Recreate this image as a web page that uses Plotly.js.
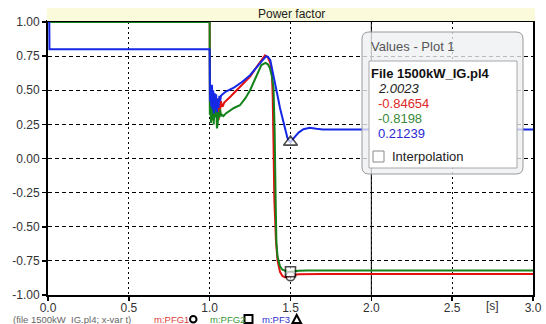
<!DOCTYPE html>
<html>
<head>
<meta charset="utf-8">
<script src="https://cdn.plot.ly/plotly-3.0.1.min.js"></script>
<style>
html,body{margin:0;padding:0;background:#fff;}
#chart{width:546px;height:324px;}
</style>
</head>
<body>
<div id="chart"></div>
<script>
// ---------- data ----------
const tRed = [0, 1.0, 1.002, 1.006, 1.01, 1.014, 1.018, 1.022, 1.026, 1.03, 1.035, 1.04, 1.045, 1.05, 1.055, 1.06, 1.065, 1.07, 1.075, 1.08, 1.09, 1.1, 1.126, 1.15, 1.187, 1.22, 1.25, 1.29, 1.32, 1.342, 1.36, 1.375, 1.385, 1.39, 1.395, 1.4, 1.41, 1.42, 1.435, 1.45, 1.465, 1.48, 1.5, 1.52, 1.55, 1.6, 1.7, 2.0, 3.0];
const pfRed = [1.0, 1.0, 0.36, 0.46, 0.30, 0.47, 0.28, 0.44, 0.30, 0.45, 0.32, 0.42, 0.34, 0.44, 0.28, 0.40, 0.36, 0.42, 0.39, 0.38, 0.41, 0.42, 0.45, 0.48, 0.526, 0.56, 0.60, 0.67, 0.72, 0.755, 0.74, 0.70, 0.63, 0.45, 0.10, -0.30, -0.60, -0.75, -0.83, -0.86, -0.87, -0.87, -0.862, -0.853, -0.848, -0.847, -0.8466, -0.8465, -0.8465];

const tGreen = [0, 1.0, 1.001, 1.004, 1.008, 1.012, 1.016, 1.02, 1.025, 1.03, 1.035, 1.04, 1.045, 1.05, 1.055, 1.06, 1.065, 1.07, 1.076, 1.085, 1.1, 1.126, 1.15, 1.187, 1.22, 1.25, 1.29, 1.32, 1.345, 1.36, 1.373, 1.385, 1.395, 1.402, 1.408, 1.413, 1.42, 1.435, 1.45, 1.466, 1.48, 1.5, 1.55, 1.6, 2.0, 3.0];
const pfGreen = [1.0, 1.0, 0.32, 0.42, 0.26, 0.45, 0.28, 0.40, 0.25, 0.38, 0.30, 0.42, 0.22, 0.26, 0.34, 0.30, 0.36, 0.31, 0.32, 0.31, 0.33, 0.35, 0.37, 0.39, 0.44, 0.50, 0.61, 0.685, 0.70, 0.69, 0.66, 0.60, 0.52, 0.20, -0.30, -0.62, -0.72, -0.79, -0.815, -0.825, -0.828, -0.83, -0.822, -0.82, -0.8198, -0.8198];

const tBlue = [0, 0.008, 0.009, 1.0, 1.002, 1.006, 1.01, 1.014, 1.018, 1.022, 1.026, 1.03, 1.035, 1.04, 1.045, 1.05, 1.055, 1.06, 1.065, 1.07, 1.08, 1.1, 1.15, 1.2, 1.25, 1.29, 1.32, 1.35, 1.36, 1.375, 1.39, 1.405, 1.42, 1.435, 1.45, 1.465, 1.48, 1.49, 1.5, 1.52, 1.55, 1.58, 1.62, 1.66, 1.7, 1.8, 2.0, 2.5, 3.0];
const pfBlue = [1.0, 1.0, 0.8, 0.8, 0.42, 0.52, 0.38, 0.54, 0.36, 0.50, 0.33, 0.48, 0.36, 0.47, 0.34, 0.44, 0.37, 0.46, 0.42, 0.46, 0.47, 0.49, 0.52, 0.56, 0.61, 0.67, 0.71, 0.75, 0.745, 0.72, 0.64, 0.55, 0.46, 0.37, 0.29, 0.22, 0.155, 0.13, 0.12, 0.15, 0.19, 0.215, 0.225, 0.218, 0.213, 0.212, 0.2124, 0.2124, 0.2124];

const markT = [1.5, 1.5, 1.5];
const markPF = [-0.862, -0.83, 0.12];

const xTickVals = [0, 0.5, 1.0, 1.5, 2.0, 2.5, 3.0];
const xTickText = ["0.0", "0.5", "1.0", "1.5", "2.0", "2.5", "3.0"];
const yTickVals = [1, 0.75, 0.5, 0.25, 0, -0.25, -0.5, -0.75, -1];
const yTickText = ["1.00", "0.75", "0.50", "0.25", "0.00", "-0.25", "-0.50", "-0.75", "-1.00"];

const readoutT = "2.0023";
const readoutVals = ["-0.84654", "-0.8198", "0.21239"];
const seriesNames = ["m:PFG1", "m:PFG2", "m:PF3"];

// ---------- styling ----------
const RED = "#e41010", GREEN = "#14821a", BLUE = "#1428e6";
const FONT = "Liberation Sans, Arial, sans-serif";
const L = 48, R = 13, T = 22, B = 29, W = 546, H = 324;
const PW = W - L - R, PH = H - T - B;
const px = x => (x - L) / PW;
const py = y => (H - B - y) / PH;

const traces = [
  {x: tRed, y: pfRed, mode: "lines", line: {color: RED, width: 2}, name: seriesNames[0]},
  {x: tGreen, y: pfGreen, mode: "lines", line: {color: GREEN, width: 2}, name: seriesNames[1]},
  {x: tBlue, y: pfBlue, mode: "lines", line: {color: BLUE, width: 2}, name: seriesNames[2]},
  {x: markT, y: markPF, mode: "markers", cliponaxis: false,
   marker: {symbol: ["circle", "square", "triangle-up"], size: [9, 10, 12], color: "#ffffff",
            line: {color: "#000000", width: 1.6}}}
];

function roundRect(x0, y0, x1, y1, r) {
  const rx = r / PW, ry = r / PH;
  const a = px(x0), b = px(x1), c = py(y0), d = py(y1);
  return `M ${a + rx} ${c} L ${b - rx} ${c} Q ${b} ${c} ${b} ${c - ry} L ${b} ${d + ry} Q ${b} ${d} ${b - rx} ${d} L ${a + rx} ${d} Q ${a} ${d} ${a} ${d + ry} L ${a} ${c - ry} Q ${a} ${c} ${a + rx} ${c} Z`;
}

const shapes = [
  {type: "line", xref: "x", yref: "paper", x0: 2, x1: 2, y0: 0, y1: 1, line: {color: "#000", width: 1}, layer: "below"},
  {type: "rect", xref: "paper", yref: "paper", x0: px(47), x1: px(535), y0: py(21), y1: py(8),
   fillcolor: "#fbfbdc", line: {width: 0}, layer: "above"},
  {type: "path", xref: "paper", yref: "paper", path: roundRect(362, 32, 523, 174, 7),
   fillcolor: "rgba(238,240,242,0.78)", line: {color: "#9a9a9a", width: 1}, layer: "above"},
  {type: "rect", xref: "paper", yref: "paper", x0: px(369), x1: px(517), y0: py(168), y1: py(61),
   fillcolor: "#ffffff", line: {color: "#a8a8a8", width: 1}, layer: "above"},
  {type: "rect", xref: "paper", yref: "paper", x0: px(373), x1: px(384), y0: py(162), y1: py(151),
   fillcolor: "#ffffff", line: {color: "#8a8a8a", width: 1}, layer: "above"},
  {type: "circle", xref: "paper", yref: "paper", x0: px(190), x1: px(196.5), y0: py(322.5), y1: py(316),
   fillcolor: "#fff", line: {color: "#000", width: 2}},
  {type: "rect", xref: "paper", yref: "paper", x0: px(244.5), x1: px(252.5), y0: py(323), y1: py(315),
   fillcolor: "#fff", line: {color: "#000", width: 2}},
  {type: "path", xref: "paper", yref: "paper",
   path: `M ${px(292.5)} ${py(323)} L ${px(301)} ${py(323)} L ${px(296.7)} ${py(315)} Z`,
   fillcolor: "#fff", line: {color: "#000", width: 2}}
];

const ann = (x, y, text, opts) => Object.assign({
  xref: "paper", yref: "paper", x: px(x), y: py(y), text: text, showarrow: false,
  xanchor: "left", yanchor: "middle", borderpad: 0,
  font: {family: FONT, size: 13, color: "#222"}
}, opts || {});

const annotations = [
  ann(291, 14, "Power factor", {xanchor: "center", font: {family: FONT, size: 12, color: "#222"}}),
  {xref: "x", yref: "paper", x: 2.75, y: py(306), text: "[s]", showarrow: false, xanchor: "center", yanchor: "middle",
   font: {family: FONT, size: 12, color: "#333"}},
  ann(370, 46, "Values - Plot 1", {font: {family: FONT, size: 13, color: "#555"}}),
  ann(370, 73, "<b>File 1500kW_IG.pl4</b>", {font: {family: FONT, size: 13, color: "#111"}}),
  ann(377, 88, "<i>" + readoutT + "</i>", {height: 13, font: {family: FONT, size: 13, color: "#222"}}),
  ann(377, 103.5, readoutVals[0], {height: 13, font: {family: FONT, size: 13, color: "#e02828"}}),
  ann(377, 118.5, readoutVals[1], {height: 13, font: {family: FONT, size: 13, color: "#3a8a3a"}}),
  ann(377, 133.5, readoutVals[2], {height: 13, font: {family: FONT, size: 13, color: "#2a2ad0"}}),
  ann(391, 156, "Interpolation", {font: {family: FONT, size: 13, color: "#222"}}),
  ann(12, 319.5, "(file 1500kW_IG.pl4; x-var t)", {font: {family: FONT, size: 9.5, color: "#666"}}),
  ann(153, 319.5, seriesNames[0], {font: {family: FONT, size: 9.5, color: "#e04040"}}),
  ann(209, 319.5, seriesNames[1], {font: {family: FONT, size: 9.5, color: "#3a9a3a"}}),
  ann(261, 319.5, seriesNames[2], {font: {family: FONT, size: 9.5, color: "#3030d0"}})
];

const layout = {
  width: W, height: H,
  margin: {l: L, r: R, t: T, b: B, pad: 0},
  paper_bgcolor: "#fff", plot_bgcolor: "#fff",
  showlegend: false,
  font: {family: FONT, size: 12, color: "#222"},
  xaxis: {
    range: [0, 3], tickvals: xTickVals, ticktext: xTickText,
    showgrid: true, gridcolor: "#000", gridwidth: 1, griddash: "2px,3px",
    zeroline: false, showline: true, linecolor: "#000", linewidth: 2, mirror: true,
    ticks: "outside", ticklen: 4, tickwidth: 1.5, tickcolor: "#000", ticklabelstandoff: -3,
    tickfont: {family: FONT, size: 12, color: "#333"}, layer: "below traces", fixedrange: true
  },
  yaxis: {
    range: [-1, 1], tickvals: yTickVals, ticktext: yTickText,
    showgrid: true, gridcolor: "#000", gridwidth: 1, griddash: "4px,3px",
    zeroline: false, showline: true, linecolor: "#000", linewidth: 2, mirror: true,
    ticks: "outside", ticklen: 4, tickwidth: 1.5, tickcolor: "#000",
    tickfont: {family: FONT, size: 12, color: "#333"}, layer: "below traces", fixedrange: true
  },
  shapes: shapes,
  annotations: annotations
};

Plotly.newPlot("chart", traces, layout, {staticPlot: true, displayModeBar: false});
</script>
</body>
</html>
